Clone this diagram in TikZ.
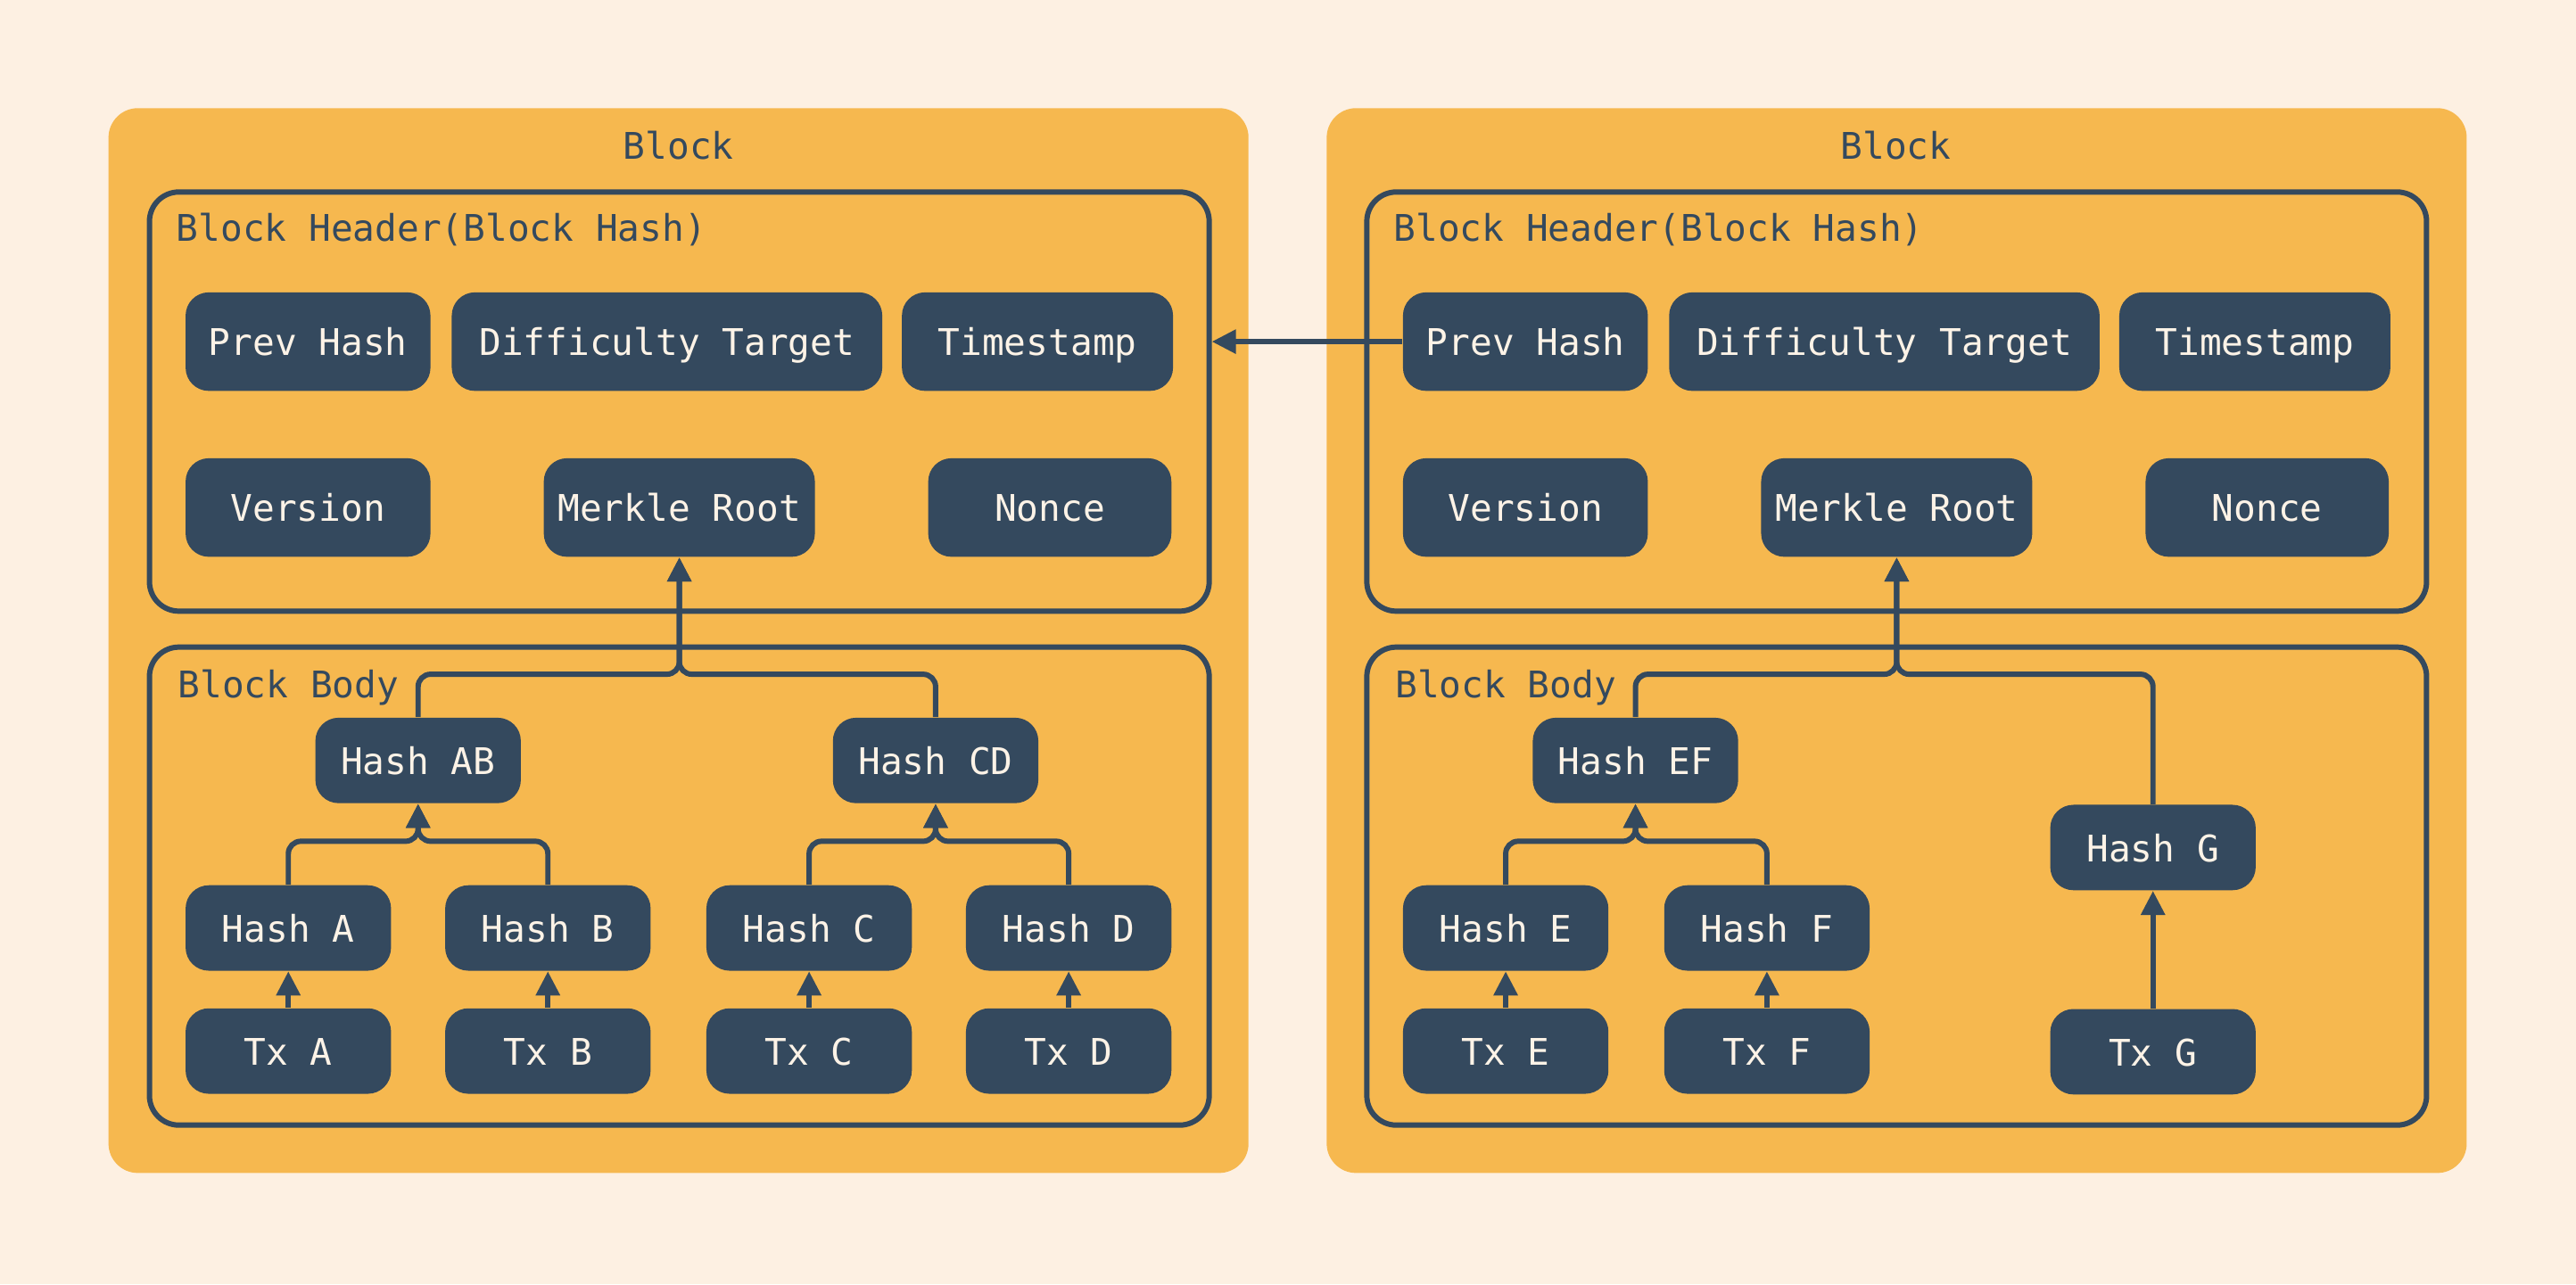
\documentclass[tikz,border=0pt]{standalone}
\usepackage{fontspec}
\newfontfamily\codefont{DejaVu Sans Mono}
\usetikzlibrary{arrows.meta}
\definecolor{cream}{HTML}{FDF0E2}
\definecolor{amber}{HTML}{F6B84F}
\definecolor{slate}{HTML}{34495E}
\definecolor{chalk}{HTML}{FDF3E7}
\begin{document}
\begin{tikzpicture}[
  x=0.01842cm, y=-0.01842cm,
  font={\codefont\fontsize{11.7pt}{14pt}\selectfont},
  panel/.style={rectangle, fill=amber, rounded corners=0.33cm, minimum width=12.78cm, minimum height=11.94cm},
  frame/.style={rectangle, draw=slate, line width=1.7pt, rounded corners=0.33cm, minimum width=11.88cm},
  caption/.style={text=slate, inner sep=0pt, text height=0.84em, text depth=0.02em},
  field/.style={rectangle, fill=slate, text=chalk, rounded corners=0.26cm, inner sep=0pt, minimum height=1.105cm, text height=0.92em, text depth=0.02em},
  hashbox/.style={field, minimum width=2.303cm, minimum height=0.958cm},
  conn/.style={draw=slate, line width=1.7pt, rounded corners=0.14cm, -{Triangle[length=0.27cm, width=0.26cm]}},
  node distance=1.38cm
]
\fill[cream] (0,0) rectangle (1568,782);
\useasboundingbox (0,0) rectangle (1568,782);

% left block
\node[panel] (blkL) at (413,390) {};
\node[caption] (ttlL) at (413,89) {Block};
\node[frame, minimum height=4.70cm] (hdrL) at (413.5,244.5) {};
\node[frame, minimum height=5.36cm] (bdyL) at (413.5,539.5) {};
\node[caption, anchor=west] (hdrLtxt) at (107,139) {Block Header(Block Hash)};
\node[caption, anchor=west] (bdyLtxt) at (108,417) {Block Body};

\node[field, minimum width=2.745cm] (phL) at (187.5,208) {Prev Hash};
\node[field, minimum width=4.826cm] (dtL) at (406,208) {Difficulty Target};
\node[field, minimum width=3.039cm] (tsL) at (631.5,208) {Timestamp};
\node[field, minimum width=2.745cm] (vL) at (187.5,309) {Version};
\node[field, minimum width=3.039cm] (mrL) at (413.5,309) {Merkle Root};
\node[field, minimum width=2.726cm] (nL) at (639,309) {Nonce};

\node[hashbox] (habL) at (254.5,463) {Hash AB};
\node[hashbox] (hcdL) at (569.5,463) {Hash CD};
\node[hashbox] (haL) at (175.5,565) {Hash A};
\node[hashbox] (hbL) at (333.5,565) {Hash B};
\node[hashbox] (hcL) at (492.5,565) {Hash C};
\node[hashbox] (hdL) at (650.5,565) {Hash D};
\node[hashbox, below of=haL] (txA) {Tx A};
\node[hashbox, below of=hbL] (txB) {Tx B};
\node[hashbox, below of=hcL] (txC) {Tx C};
\node[hashbox, below of=hdL] (txD) {Tx D};

% right block
\node[panel] (blkR) at (1154.5,390) {};
\node[caption] (ttlR) at (1154,89) {Block};
\node[frame, minimum height=4.70cm] (hdrR) at (1154.5,244.5) {};
\node[frame, minimum height=5.36cm] (bdyR) at (1154.5,539.5) {};
\node[caption, anchor=west] (hdrRtxt) at (848,139) {Block Header(Block Hash)};
\node[caption, anchor=west] (bdyRtxt) at (849,417) {Block Body};

\node[field, minimum width=2.745cm] (phR) at (928.5,208) {Prev Hash};
\node[field, minimum width=4.826cm] (dtR) at (1147,208) {Difficulty Target};
\node[field, minimum width=3.039cm] (tsR) at (1372.5,208) {Timestamp};
\node[field, minimum width=2.745cm] (vR) at (928.5,309) {Version};
\node[field, minimum width=3.039cm] (mrR) at (1154.5,309) {Merkle Root};
\node[field, minimum width=2.726cm] (nR) at (1380,309) {Nonce};

\node[hashbox] (hefR) at (995.5,463) {Hash EF};
\node[hashbox] (hgR) at (1310.5,516) {Hash G};
\node[hashbox] (heR) at (916.5,565) {Hash E};
\node[hashbox] (hfR) at (1075.5,565) {Hash F};
\node[hashbox, below of=heR] (txE) {Tx E};
\node[hashbox, below of=hfR] (txF) {Tx F};
\node[hashbox, below of=hgR, node distance=2.29cm] (txG) {Tx G};

% merkle tree, left
\draw[conn] (txA) -- (haL);
\draw[conn] (txB) -- (hbL);
\draw[conn] (txC) -- (hcL);
\draw[conn] (txD) -- (hdL);
\draw[conn] (haL.north) |- ([yshift=-0.42cm]habL.south) -- (habL.south);
\draw[conn] (hbL.north) |- ([yshift=-0.42cm]habL.south) -- (habL.south);
\draw[conn] (hcL.north) |- ([yshift=-0.42cm]hcdL.south) -- (hcdL.south);
\draw[conn] (hdL.north) |- ([yshift=-0.42cm]hcdL.south) -- (hcdL.south);
\draw[conn] (habL.north) |- ([yshift=-1.31cm]mrL.south) -- (mrL.south);
\draw[conn] (hcdL.north) |- ([yshift=-1.31cm]mrL.south) -- (mrL.south);

% merkle tree, right
\draw[conn] (txE) -- (heR);
\draw[conn] (txF) -- (hfR);
\draw[conn] (txG) -- (hgR);
\draw[conn] (heR.north) |- ([yshift=-0.42cm]hefR.south) -- (hefR.south);
\draw[conn] (hfR.north) |- ([yshift=-0.42cm]hefR.south) -- (hefR.south);
\draw[conn] (hefR.north) |- ([yshift=-1.31cm]mrR.south) -- (mrR.south);
\draw[conn] (hgR.north) |- ([yshift=-1.31cm]mrR.south) -- (mrR.south);

% chain link
\draw[conn] (phR) -- (phR -| hdrL.east);
\end{tikzpicture}
\end{document}
